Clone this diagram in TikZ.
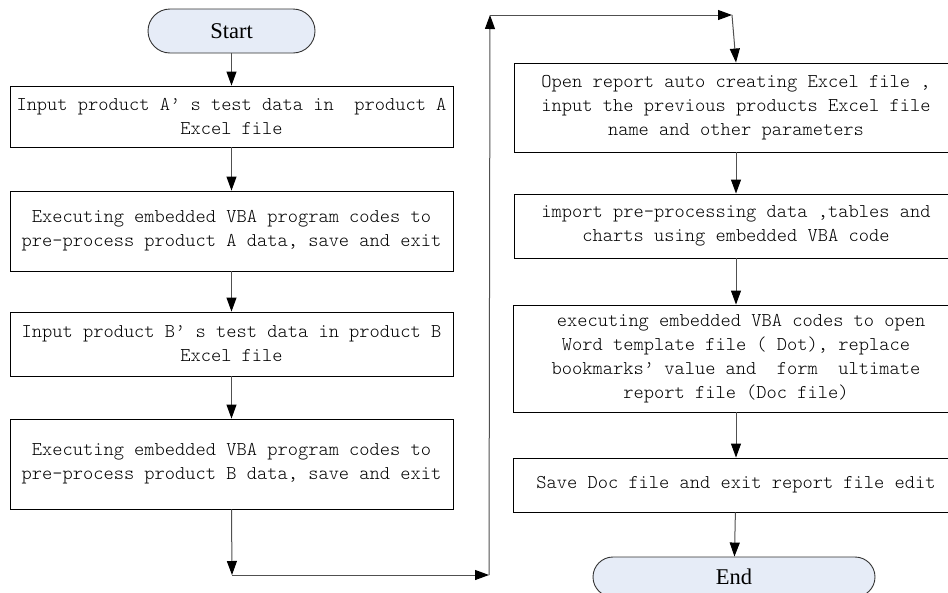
\documentclass[tikz,border=0pt]{standalone}
\usepackage{fontspec}
\setmainfont{Liberation Serif}
\setmonofont{Latin Modern Mono Light}
\usetikzlibrary{arrows.meta}
\definecolor{termfill}{RGB}{230,236,247}
\definecolor{linegray}{RGB}{80,80,80}
\begin{document}
\begin{tikzpicture}[x=1pt,y=-1pt,
  procbox/.style={draw=black, line width=0.9pt, rectangle, align=center, inner sep=0pt,
    font=\ttfamily\fontsize{19.5}{24}\selectfont},
  termbox/.style={draw=black!80, line width=0.9pt, fill=termfill, rectangle, inner sep=0pt,
    font=\fontsize{22.5}{26}\selectfont},
  conn/.style={draw=linegray, line width=1pt, -{Triangle[length=14pt,width=10pt,color=black,fill=black]}},
]
\useasboundingbox (0,0) rectangle (948,592);
\clip (0,0) rectangle (948,592);
\fill[white] (0,0) rectangle (948,592);

% left column
\node[termbox, rounded corners=22pt, minimum width=167pt, minimum height=44pt] (st) at (231.5,31) {Start};
\node[procbox, minimum width=443pt, minimum height=61pt] (b1) at (231.5,116.5)
  {Input product A’ s test data in\ \ product A\\Excel file};
\node[procbox, minimum width=443pt, minimum height=80pt] (b2) at (231.5,231)
  {Executing embedded VBA program codes to\\pre-process product A data, save and exit};
\node[procbox, minimum width=443pt, minimum height=64pt] (b3) at (231.5,344)
  {Input product B’ s test data in product B\\Excel file};
\node[procbox, minimum width=443pt, minimum height=90pt] (b4) at (231.5,464)
  {Executing embedded VBA program codes to\\pre-process product B data, save and exit};

% right column
\node[procbox, minimum width=444pt, minimum height=89pt] (b5) at (736,107.5)
  {Open report auto creating Excel file ,\\input the previous products Excel file\\name and other parameters};
\node[procbox, minimum width=444pt, minimum height=64pt] (b6) at (736,226)
  {import pre-processing data ,tables and\\charts using embedded VBA code};
\node[procbox, minimum width=446pt, minimum height=107pt] (b7) at (736,358.5)
  {\ executing embedded VBA codes to open\\Word template file ( Dot), replace\\bookmarks’ value and\ \ form\ \ ultimate\\report file (Doc file)};
\node[procbox, minimum width=446pt, minimum height=54pt] (b8) at (736,485)
  {Save Doc file and exit report file edit};
\node[termbox, rounded corners=20pt, minimum width=282pt, minimum height=40pt] (en) at (734,577) {End};

% bend points
\coordinate (c1) at (232,575);
\coordinate (c2) at (489,575);
\coordinate (c3) at (490,15);
\coordinate (c4) at (732,15);

% connectors
\draw[conn] (st) -- (b1);
\draw[conn] (b1) -- (b2);
\draw[conn] (b2) -- (b3);
\draw[conn] (b3) -- (b4);
\draw[conn] (b4.south) -- (c1);
\draw[conn] (c1) -- (c2);
\draw[conn] (c2) -- (c3);
\draw[conn] (c3) -- (c4);
\draw[conn] (c4) -- (b5.north);
\draw[conn] (b5) -- (b6);
\draw[conn] (b6) -- (b7);
\draw[conn] (b7) -- (b8);
\draw[conn] (b8) -- (en);
\end{tikzpicture}
\end{document}
